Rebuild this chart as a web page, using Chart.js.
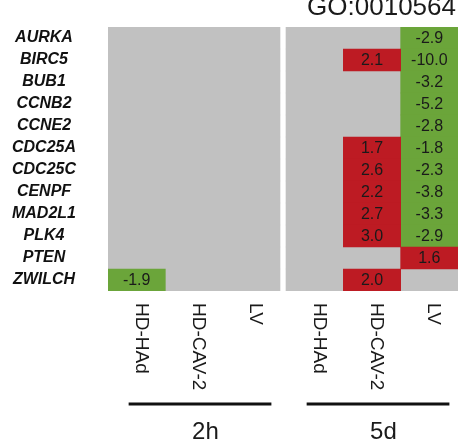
<!DOCTYPE html>
<html>
<head>
<meta charset="utf-8">
<script src="https://cdn.jsdelivr.net/npm/chart.js@4"></script>
<style>
  body { margin: 0; background: #fff; }
  #wrap { width: 461px; height: 444px; position: relative; }
</style>
</head>
<body>
<div id="wrap"><canvas id="heatChart"></canvas></div>
<script>
const genes = ["AURKA", "BIRC5", "BUB1", "CCNB2", "CCNE2", "CDC25A", "CDC25C", "CENPF", "MAD2L1", "PLK4", "PTEN", "ZWILCH"];
const conditions = ["HD-HAd", "HD-CAV-2", "LV"];
const timepoints = ["2h", "5d"];
const goTerm = "GO:0010564";

// fold changes per column, null = not significant (grey)
const h2_HDHAd = [null, null, null, null, null, null, null, null, null, null, null, -1.9];
const h2_HDCAV2 = [null, null, null, null, null, null, null, null, null, null, null, null];
const h2_LV = [null, null, null, null, null, null, null, null, null, null, null, null];
const d5_HDHAd = [null, null, null, null, null, null, null, null, null, null, null, null];
const d5_HDCAV2 = [null, 2.1, null, null, null, 1.7, 2.6, 2.2, 2.7, 3.0, null, 2.0];
const d5_LV = [-2.9, -10.0, -3.2, -5.2, -2.8, -1.8, -2.3, -3.8, -3.3, -2.9, 1.6, null];

const columnValues = [h2_HDHAd, h2_HDCAV2, h2_LV, d5_HDHAd, d5_HDCAV2, d5_LV];

const RED = "#bd1b23";
const GREEN = "#6ba53a";
const GREY = "#c1c1c1";
const PANEL_GAP = 0.105;
const TEXT = "#1a1a1a";

const panelStart = (p) => p * (conditions.length + PANEL_GAP);
const colStart = (c) => panelStart(Math.floor(c / 3)) + (c % 3);

const datasets = [];

// grey panel backgrounds (drawn first: higher order)
timepoints.forEach((t, p) => {
  datasets.push({
    label: "bg " + t,
    order: 2,
    data: genes.map(() => [panelStart(p), panelStart(p) + conditions.length]),
    backgroundColor: GREY,
    borderWidth: 0,
    grouped: false,
    barPercentage: 1,
    categoryPercentage: 1,
  });
});

// coloured cells
columnValues.forEach((vals, c) => {
  datasets.push({
    label: conditions[c % 3] + " " + timepoints[Math.floor(c / 3)],
    order: 1,
    values: vals,
    isCell: true,
    data: vals.map((v) => (v === null ? null : [colStart(c), colStart(c) + 1])),
    backgroundColor: (ctx) => {
      const v = vals[ctx.dataIndex];
      return v > 0 ? RED : GREEN;
    },
    borderWidth: 0,
    grouped: false,
    barPercentage: 1,
    categoryPercentage: 1,
  });
});

const decorPlugin = {
  id: "decor",
  afterDatasetsDraw(chart) {
    const ctx = chart.ctx;
    const x = chart.scales.x;
    const area = chart.chartArea;

    // cell values
    ctx.save();
    ctx.font = "16px 'Liberation Sans', Arial, sans-serif";
    ctx.fillStyle = TEXT;
    ctx.textAlign = "center";
    ctx.textBaseline = "middle";
    chart.data.datasets.forEach((ds, i) => {
      if (!ds.isCell) return;
      const meta = chart.getDatasetMeta(i);
      meta.data.forEach((el, j) => {
        const v = ds.values[j];
        if (v === null) return;
        const cx = (el.x + el.base) / 2;
        ctx.fillText(v.toFixed(1), cx, el.y + 1);
      });
    });
    ctx.restore();

    // title
    ctx.save();
    ctx.font = "26px 'Liberation Sans', Arial, sans-serif";
    ctx.fillStyle = TEXT;
    ctx.textAlign = "right";
    ctx.textBaseline = "alphabetic";
    ctx.fillText(goTerm, area.right - 2, 15);
    ctx.restore();

    // column labels, rotated to read downwards
    ctx.save();
    ctx.font = "19px 'Liberation Sans', Arial, sans-serif";
    ctx.fillStyle = TEXT;
    ctx.textAlign = "left";
    ctx.textBaseline = "alphabetic";
    columnValues.forEach((vals, c) => {
      const px = x.getPixelForValue(colStart(c) + 0.5) - 1;
      ctx.save();
      ctx.translate(px, area.bottom + 12);
      ctx.rotate(Math.PI / 2);
      ctx.fillText(conditions[c % 3], 0, 0);
      ctx.restore();
    });
    ctx.restore();

    // time point brackets
    ctx.save();
    ctx.strokeStyle = "#111";
    ctx.lineWidth = 3;
    ctx.font = "24px 'Liberation Sans', Arial, sans-serif";
    ctx.fillStyle = TEXT;
    ctx.textAlign = "center";
    ctx.textBaseline = "alphabetic";
    timepoints.forEach((t, p) => {
      const x0 = x.getPixelForValue(panelStart(p) + 0.36);
      const x1 = x.getPixelForValue(panelStart(p) + 2.85);
      ctx.beginPath();
      ctx.moveTo(x0, area.bottom + 113);
      ctx.lineTo(x1, area.bottom + 113);
      ctx.stroke();
      ctx.fillText(t, x.getPixelForValue(panelStart(p) + 1.7), area.bottom + 148);
    });
    ctx.restore();
  },
};

const heatCtx = document.getElementById("heatChart").getContext("2d");

const heatChart = new Chart(heatCtx, {
  type: "bar",
  data: {
    labels: genes,
    datasets: datasets,
  },
  options: {
    indexAxis: "y",
    animation: false,
    responsive: true,
    maintainAspectRatio: false,
    layout: {
      padding: { top: 27, right: 3, bottom: 153, left: 0 },
    },
    scales: {
      x: {
        type: "linear",
        display: false,
        min: 0,
        max: panelStart(1) + conditions.length,
      },
      y: {
        type: "category",
        grid: { display: false, drawTicks: false },
        border: { display: false },
        ticks: {
          autoSkip: false,
          crossAlign: "center",
          padding: 32,
          color: "#111",
          font: {
            family: "'Liberation Sans', Arial, sans-serif",
            size: 16,
            weight: "bold",
            style: "italic",
          },
        },
        afterFit(scale) {
          scale.width = 108;
          scale.paddingTop = 0;
          scale.paddingBottom = 0;
        },
      },
    },
    plugins: {
      legend: { display: false },
      tooltip: { enabled: false },
      title: { display: false },
    },
  },
  plugins: [decorPlugin],
});
</script>
</body>
</html>
